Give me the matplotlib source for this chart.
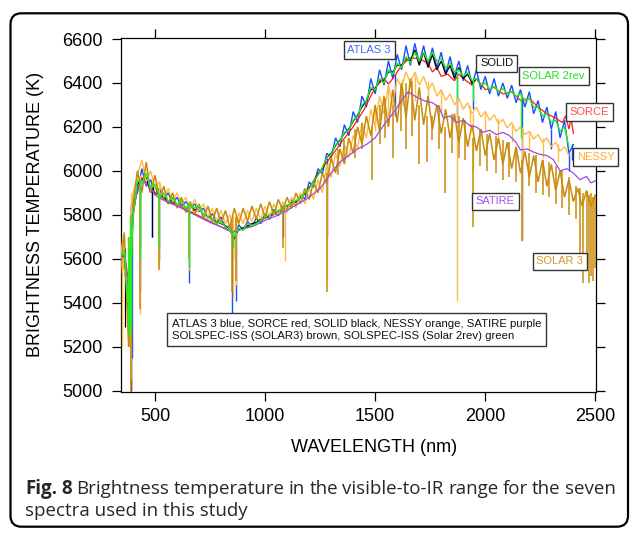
import matplotlib
matplotlib.use("Agg")
import matplotlib.pyplot as plt
from matplotlib.patches import FancyBboxPatch

plt.rcParams['font.family'] = ['Liberation Sans', 'DejaVu Sans']

# ---------------- data ----------------
WL = [340, 360, 380, 400, 420, 440, 460, 480, 500, 520,
      540, 560, 580, 600, 620, 640, 660, 680, 700, 720,
      740, 760, 780, 800, 820, 840, 860, 880, 900, 920,
      940, 960, 980, 1000, 1020, 1040, 1060, 1080, 1100, 1120,
      1140, 1160, 1180, 1200, 1220, 1240, 1260, 1280, 1300, 1320,
      1340, 1360, 1380, 1400, 1420, 1440, 1460, 1480, 1500, 1520,
      1540, 1560, 1580, 1600, 1620, 1640, 1660, 1680, 1700, 1720,
      1740, 1760, 1780, 1800, 1820, 1840, 1860, 1880, 1900, 1920,
      1940, 1960, 1980, 2000, 2020, 2040, 2060, 2080, 2100, 2120,
      2140, 2160, 2180, 2200, 2220, 2240, 2260, 2280, 2300, 2320,
      2340, 2360, 2380, 2400, 2420, 2440, 2460, 2480, 2500]

ATLAS3 = [5660, 5560, 5420, 5860, 5900, 6010, 5930, 5960, 5890, 5920,
          5870, 5900, 5850, 5880, 5840, 5860, 5830, 5850, 5815, 5830,
          5785, 5805, 5765, 5790, 5740, 5750, 5700, 5755, 5730, 5770,
          5745, 5785, 5760, 5805, 5780, 5825, 5795, 5840, 5815, 5870,
          5840, 5895, 5870, 5950, 5925, 6010, 5985, 6080, 6060, 6150,
          6110, 6210, 6160, 6270, 6220, 6340, 6290, 6420, 6350, 6460,
          6390, 6500, 6420, 6530, 6460, 6570, 6480, 6580, 6490, 6570,
          6480, 6560, 6470, 6540, 6440, 6520, 6430, 6500, 6410, 6480,
          6390, 6460, 6370, 6430, 6350, 6420, 6340, 6400, 6330, 6390,
          6310, 6370, 6290, 6360, 6260, 6320, 6220, 6290, 6190, 6270,
          6150, 6230, 6080, 6120]

SOLAR2REV = [5600, 5640, 5350, 5780, 5960, 5940, 5990, 5920, 5940, 5880,
             5900, 5860, 5880, 5845, 5865, 5830, 5850, 5830, 5845, 5800,
             5790, 5780, 5760, 5770, 5745, 5730, 5700, 5740, 5730, 5760,
             5750, 5760, 5775, 5790, 5800, 5810, 5820, 5825, 5845, 5850,
             5865, 5875, 5900, 5920, 5950, 5980, 6015, 6060, 6075, 6120,
             6135, 6175, 6185, 6230, 6250, 6300, 6320, 6380, 6370, 6420,
             6400, 6460, 6440, 6490, 6470, 6520, 6490, 6540, 6500, 6540,
             6500, 6540, 6500, 6510, 6470, 6490, 6450, 6460, 6430, 6450,
             6410, 6420, 6390, 6400, 6370, 6385, 6360, 6375, 6350, 6360,
             6340, 6350, 6320, 6330, 6290, 6290, 6250, 6260, 6220, 6230,
             6180, 6200, 6110]

SOLID = [5580, 5620, 5300, 5800, 5940, 5960, 5970, 5900, 5930, 5880,
         5890, 5850, 5875, 5840, 5860, 5830, 5845, 5820, 5835, 5800,
         5795, 5775, 5770, 5760, 5750, 5730, 5690, 5735, 5740, 5750,
         5760, 5765, 5780, 5790, 5795, 5810, 5815, 5830, 5840, 5855,
         5860, 5880, 5895, 5925, 5945, 5985, 6010, 6060, 6080, 6115,
         6140, 6170, 6190, 6225, 6255, 6290, 6320, 6370, 6375, 6410,
         6410, 6450, 6450, 6480, 6480, 6510, 6500, 6550, 6480, 6540,
         6470, 6530, 6460, 6500, 6440, 6480, 6420, 6470, 6420, 6440,
         6400, 6420, 6390]

NESSY = [5700, 5550, 5450, 5900, 5980, 6050, 5950, 6000, 5920, 5950,
         5880, 5920, 5860, 5900, 5850, 5880, 5830, 5870, 5820, 5850,
         5790, 5830, 5770, 5820, 5760, 5800, 5700, 5810, 5760, 5820,
         5770, 5830, 5780, 5840, 5790, 5850, 5800, 5860, 5810, 5880,
         5830, 5900, 5850, 5920, 5870, 5960, 5900, 6030, 5970, 6080,
         6020, 6120, 6060, 6160, 6100, 6220, 6150, 6280, 6200, 6340,
         6260, 6390, 6300, 6420, 6380, 6450, 6400, 6450, 6390, 6430,
         6370, 6400, 6340, 6370, 6320, 6350, 6300, 6330, 6280, 6310,
         6260, 6290, 6245, 6270, 6230, 6255, 6215, 6235, 6195, 6220,
         6180, 6200, 6165, 6180, 6145, 6165, 6130, 6150, 6110, 6130,
         6090, 6110, 6070]

SOLAR3 = [5500, 5720, 5200, 5850, 6000, 5900, 6040, 5900, 5980, 5870,
          5930, 5850, 5900, 5830, 5880, 5810, 5860, 5800, 5850, 5780,
          5840, 5770, 5830, 5760, 5820, 5740, 5830, 5760, 5830, 5770,
          5840, 5780, 5850, 5790, 5860, 5800, 5870, 5820, 5880, 5830,
          5900, 5850, 5920, 5870, 5950, 5900, 5990, 5940, 6060, 5990,
          6100, 6030, 6150, 6080, 6200, 6120, 6250, 6160, 6300, 6180,
          6340, 6200, 6370, 6220, 6400, 6240, 6420, 6230, 6380, 6210,
          6340, 6190, 6300, 6170, 6280, 6150, 6260, 6130, 6240, 6110,
          6210, 6090, 6190, 6070, 6170, 6050, 6150, 6030, 6130, 6010,
          6110, 5990, 6090, 5970, 6070, 5950, 6050, 5930, 6030, 5910,
          6000, 5880, 5960, 5860, 5920, 5840, 5910, 5840, 5890]

SORCE_WL = [340, 360, 380, 400, 420, 440, 460, 480, 500, 550, 600, 650, 700, 750,
            800, 850, 900, 950, 1000, 1050, 1100, 1150, 1200, 1240, 1260, 1280,
            1300, 1350, 1400, 1450, 1500, 1540, 1560, 1580, 1620, 1660, 1700,
            1740, 1760, 1780, 1800, 1830, 1860, 1880, 1900, 1940, 1960, 2000,
            2040, 2080, 2120, 2160, 2200, 2240, 2280, 2320, 2350, 2365, 2380,
            2390, 2400]
SORCE = [5600, 5620, 5500, 5800, 5920, 5970, 5950, 5930, 5900, 5870, 5845, 5820,
         5795, 5770, 5745, 5725, 5740, 5755, 5785, 5805, 5830, 5865, 5920, 5990,
         6010, 6040, 6065, 6135, 6200, 6280, 6380, 6420, 6395, 6420, 6480, 6515,
         6510, 6490, 6450, 6470, 6430, 6440, 6410, 6440, 6420, 6390, 6420, 6370,
         6380, 6350, 6360, 6320, 6330, 6290, 6260, 6240, 6220, 6250, 6190, 6240,
         6170]

SATIRE_WL = [340, 360, 380, 400, 420, 440, 460, 480, 500, 550, 600, 650, 700, 750,
             800, 850, 900, 950, 1000, 1050, 1100, 1150, 1200, 1250, 1300, 1340,
             1380, 1420, 1460, 1500, 1540, 1580, 1620, 1650, 1680, 1720, 1760,
             1790, 1810, 1840, 1870, 1900, 1930, 1960, 1990, 2020, 2050, 2080,
             2110, 2140, 2160, 2190, 2220, 2250, 2280, 2310, 2340, 2370, 2400,
             2430, 2460, 2480, 2500]
SATIRE = [5600, 5620, 5450, 5800, 5920, 5960, 5940, 5920, 5890, 5860, 5840, 5815,
          5790, 5765, 5745, 5720, 5735, 5750, 5775, 5795, 5820, 5850, 5880, 5920,
          5990, 6040, 6070, 6100, 6120, 6150, 6210, 6260, 6320, 6360, 6340, 6320,
          6310, 6290, 6240, 6250, 6220, 6230, 6205, 6200, 6175, 6185, 6165, 6175,
          6160, 6130, 6095, 6100, 6085, 6075, 6070, 6050, 6000, 6010, 5990, 5960,
          5975, 5945, 5955]

# absorption lines: (wavelength, top, bottom)
ATLAS3_LINES = [(393, 5850, 5000), (397, 5850, 5150), (430, 5950, 5450), (486, 5940, 5700),
                (517, 5900, 5600), (656, 5840, 5490), (850, 5730, 5350), (866, 5720, 5410),
                (1083, 5830, 5700), (1282, 6060, 5700), (1590, 6440, 6250), (1870, 6430, 6250),
                (1945, 6390, 6280), (2165, 6340, 5690), (2300, 6190, 6100), (2380, 6080, 6000),
                (2395, 6120, 6050)]
SOLAR2REV_LINES = [(378, 5700, 5280), (382, 5650, 5250), (386, 5800, 5250), (390, 5750, 5300),
                   (430, 5950, 5600), (517, 5900, 5650), (656, 5850, 5560),
                   (854, 5720, 5650), (1870, 6460, 6330), (1945, 6420, 6320), (2162, 6350, 6150)]
SOLID_LINES = [(365, 5650, 5290), (393, 5850, 5000), (430, 5950, 5650), (486, 5930, 5700),
               (854, 5720, 5600)]
NESSY_LINES = [(350, 5700, 5200), (393, 5900, 5050), (430, 5980, 5350), (517, 5950, 5560),
               (656, 5860, 5550), (854, 5800, 5420), (866, 5800, 5480), (1091, 5850, 5590),
               (1280, 6030, 5500), (1500, 6300, 6180), (1560, 6390, 6250), (1620, 6420, 6300),
               (1680, 6450, 6320), (1740, 6410, 6300), (1800, 6370, 6260), (1870, 6330, 5410),
               (1930, 6300, 6200), (1945, 6260, 6000), (2000, 6270, 6180), (2060, 6240, 6150),
               (2120, 6220, 6130), (2165, 6200, 5680), (2200, 6180, 6090), (2260, 6150, 6060),
               (2330, 6120, 6040)]
SOLAR3_LINES = [(380, 5700, 5200), (393, 5800, 4995), (430, 5950, 5370), (517, 5900, 5550),
                (656, 5850, 5600), (850, 5780, 5450), (866, 5790, 5500), (1083, 5840, 5650),
                (1280, 5990, 5450), (1330, 6100, 5980), (1360, 6140, 6040), (1410, 6190, 6060),
                (1440, 6220, 6100), (1485, 6200, 5960), (1520, 6300, 6120), (1545, 6330, 6150),
                (1580, 6300, 6060), (1615, 6390, 6180), (1640, 6400, 6100), (1665, 6410, 6160),
                (1700, 6300, 6030), (1735, 6250, 6040), (1760, 6250, 6140), (1790, 6300, 6100),
                (1818, 6200, 5900), (1850, 6260, 6080), (1880, 6250, 6060), (1910, 6230, 6050),
                (1945, 6150, 5745), (1975, 6190, 6020), (2010, 6170, 6000), (2050, 6160, 5990),
                (2080, 6140, 5960), (2110, 6130, 5970), (2140, 6110, 5950), (2165, 6050, 5680),
                (2200, 6080, 5930), (2230, 6070, 5900), (2260, 6050, 5890), (2290, 6040, 5880),
                (2320, 6020, 5850), (2350, 6000, 5830), (2380, 5970, 5800), (2410, 5930, 5780),
                (2430, 5920, 5560), (2445, 5900, 5490), (2460, 5910, 5600), (2470, 5890, 5490),
                (2480, 5900, 5520), (2490, 5880, 5500), (2500, 5890, 5560)]

X_TICKS = [500, 1000, 1500, 2000, 2500]
Y_TICKS = [5000, 5200, 5400, 5600, 5800, 6000, 6200, 6400, 6600]

# name, label position (wavelength, K), text colour
LABELS = [("ATLAS 3", 1473, 6550, '#3d6cf5'),
          ("SOLID", 2052, 6489, '#111111'),
          ("SOLAR 2rev", 2311, 6430, '#22e022'),
          ("SORCE", 2473, 6268, '#ff4f4f'),
          ("NESSY", 2502, 6063, '#ffab2a'),
          ("SATIRE", 2045, 5861, '#a352ee'),
          ("SOLAR 3", 2339, 5588, '#d4982e')]

LEGEND_TEXT = ("ATLAS 3 blue, SORCE red, SOLID black, NESSY orange, SATIRE purple\n"
               "SOLSPEC-ISS (SOLAR3) brown, SOLSPEC-ISS (Solar 2rev) green")
CAPTION_BOLD = "Fig. 8"
CAPTION_L1 = "Brightness temperature in the visible-to-IR range for the seven"
CAPTION_L2 = "spectra used in this study"

# ---------------- figure ----------------
W, H = 630, 536
fig = plt.figure(figsize=(W / 100, H / 100), dpi=100)
ax = fig.add_axes([120.7 / W, 1 - 391.7 / H, (596 - 120.7) / W, (391.7 - 37.7) / H])

C_ATLAS = '#1450ff'
C_SORCE = '#ff1a1a'
C_SOLID = '#000000'
C_NESSY = '#ffbb45'
C_SATIRE = '#9c4be6'
C_SOLAR3 = '#c98a0a'
C_GREEN = '#22ee22'

series = [
    (WL[:len(ATLAS3)], ATLAS3, ATLAS3_LINES, C_ATLAS, 2, 1.0),
    (SORCE_WL, SORCE, [], C_SORCE, 3, 0.9),
    (WL[:len(SOLID)], SOLID, SOLID_LINES, C_SOLID, 4, 0.9),
    (WL[:len(NESSY)], NESSY, NESSY_LINES, C_NESSY, 5, 1.0),
    (WL[:len(SOLAR3)], SOLAR3, SOLAR3_LINES, C_SOLAR3, 6, 1.1),
    (SATIRE_WL, SATIRE, [], C_SATIRE, 7, 0.9),
    (WL[:len(SOLAR2REV)], SOLAR2REV, SOLAR2REV_LINES, C_GREEN, 8, 1.0),
]
for x, y, lines, c, z, lw in series:
    ax.plot(x, y, color=c, lw=lw, zorder=z, solid_joinstyle='miter')
    if lines:
        ax.vlines([l[0] for l in lines], [l[2] for l in lines], [l[1] for l in lines],
                  colors=c, lw=lw, zorder=z)

ax.set_xlim(344, 2503)
ax.set_ylim(4995, 6606)
ax.set_xticks(X_TICKS)
ax.set_yticks(Y_TICKS)
ax.tick_params(axis='both', direction='out', length=6.2, width=0.9, labelsize=13,
               top=True, right=True, colors='black')
ax.tick_params(axis='x', pad=5.5)
ax.tick_params(axis='y', pad=7)
for s in ax.spines.values():
    s.set_linewidth(0.9)

fig.text(374 / W, 1 - 447 / H, "WAVELENGTH (nm)", fontsize=13, ha='center', va='center')
fig.text(36 / W, 1 - 214 / H, "BRIGHTNESS TEMPERATURE (K)", fontsize=13, ha='center',
         va='center', rotation=90)

for name, lx, ly, c in LABELS:
    ax.text(lx, ly, name, color=c, fontsize=8, ha='center', va='center', zorder=20,
            clip_on=False,
            bbox=dict(boxstyle='square,pad=0.35', fc='white', ec='#333333', lw=1.0))

ax.text(0.496, 0.1757, LEGEND_TEXT, transform=ax.transAxes, fontsize=8.2, ha='center',
        va='center', multialignment='left', color='#111111', zorder=20, linespacing=1.25,
        bbox=dict(boxstyle='square,pad=0.45', fc='white', ec='#333333', lw=1.0))

# outer rounded frame
frame = FancyBboxPatch((10.5, 9.3), 617.5, 513.4, boxstyle='round,pad=0,rounding_size=11',
                       transform=None, fill=False, ec='black', lw=1.6)
fig.patches.append(frame)

# caption (justified first line)
cap_font = 'Open Sans'
cap_color = '#2a2627'
r = fig.canvas.get_renderer()


def text_width(s, size, weight='normal'):
    t = fig.text(0, 0, s, fontsize=size, family=cap_font, weight=weight)
    w = t.get_window_extent(r).width
    t.remove()
    return w


base = 12.0
cap_size = base * 222.0 / text_width(CAPTION_L2, base)
words = [(w, 'bold') for w in CAPTION_BOLD.split()] + [(w, 'normal') for w in CAPTION_L1.split()]
widths = [text_width(w, cap_size, wt) for w, wt in words]
x0, x1 = 25.0, 616.0
gap = (x1 - x0 - sum(widths)) / (len(words) - 1)
x = x0
for (w, wt), wd in zip(words, widths):
    fig.text(x / W, 1 - 494 / H, w, fontsize=cap_size, family=cap_font, weight=wt,
             color=cap_color, ha='left', va='baseline')
    x += wd + gap
fig.text(x0 / W, 1 - 516 / H, CAPTION_L2, fontsize=cap_size, family=cap_font,
         color=cap_color, ha='left', va='baseline')

fig.savefig('out.png', dpi=100)
